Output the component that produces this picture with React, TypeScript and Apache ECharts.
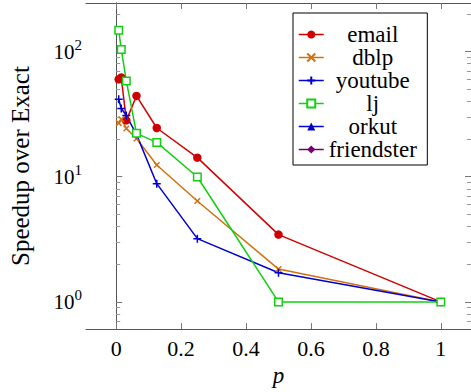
import React, { useEffect, useRef } from "react";
import * as echarts from "echarts";

const pValues = [1 / 128, 1 / 64, 1 / 32, 1 / 16, 1 / 8, 1 / 4, 1 / 2, 1];
const emailSpeedup = [60, 62, 28.2, 44.2, 24.5, 14.2, 3.45, 1];
const dblpSpeedup = [26.8, 28.8, 24.3, 20.2, 12.4, 6.4, 1.83, 1];
const youtubeSpeedup = [41.5, 35.1, 30.8, 21.8, 8.8, 3.2, 1.71, 1];
const ljSpeedup = [148, 104, 58.2, 22.2, 18.8, 9.95, 1.0, 1];
const orkutSpeedup: number[] = [];
const friendsterSpeedup: number[] = [];

const seriesNames = ["email", "dblp", "youtube", "lj", "orkut", "friendster"];
const xTicks = [0, 0.2, 0.4, 0.6, 0.8, 1];
const yMajorTicks = [1, 10, 100];
const yMinorTicks = [0.7, 0.8, 0.9, 2, 3, 4, 5, 6, 7, 8, 9, 20, 30, 40, 50, 60, 70, 80, 90, 200];

const FONT = "'Liberation Serif', 'Times New Roman', serif";
const X_MIN = -0.093;
const X_MAX = 1.093;
const Y_MIN = 0.6066;
const Y_MAX = 244.1;

const pair = (ys: number[]) => ys.map((y, i) => [pValues[i], y]);

export default function App() {
  const ref = useRef<HTMLDivElement>(null);
  useEffect(() => {
    if (!ref.current) return;
    const chart = echarts.init(ref.current, undefined, { renderer: "svg" });
    const axisLine = { show: true, lineStyle: { color: "#555", width: 1 } };
    const majorTickY = { show: true, inside: true, length: 6, customValues: yMajorTicks, lineStyle: { color: "#777", width: 1 } };
    const minorTickY = { show: true, inside: true, length: 4, customValues: yMinorTicks, lineStyle: { color: "#999", width: 1 } };
    const tickX = { show: true, inside: true, length: 6, customValues: xTicks, lineStyle: { color: "#777", width: 1 } };
    const yLog = { type: "log", logBase: 10, min: Y_MIN, max: Y_MAX, splitLine: { show: false }, minorTick: { show: false } };

    const lineCommon = { type: "line", xAxisIndex: 0, yAxisIndex: 0, showSymbol: true, lineStyle: { width: 1.5 }, emphasis: { disabled: true } };
    const option: any = {
      animation: false,
      backgroundColor: "#fff",
      grid: { left: 72, right: -1, top: 3, bottom: 53, containLabel: false },
      xAxis: [
        {
          type: "value", min: X_MIN, max: X_MAX, position: "bottom",
          axisLine, axisTick: tickX, splitLine: { show: false },
          axisLabel: { customValues: xTicks, fontFamily: FONT, fontSize: 22, color: "#000", margin: 8, formatter: (v: number) => String(Math.round(v * 10) / 10) },
          name: "p", nameLocation: "middle", nameGap: 21,
          nameTextStyle: { fontFamily: FONT, fontSize: 23, fontStyle: "italic", color: "#000" },
        },
        {
          type: "value", min: X_MIN, max: X_MAX, position: "top",
          axisLine, axisTick: tickX, splitLine: { show: false }, axisLabel: { show: false },
        },
      ],
      yAxis: [
        {
          ...yLog, position: "left", axisLine, axisTick: majorTickY,
          axisLabel: {
            customValues: yMajorTicks, margin: 4,
            formatter: (v: number) => `{b|10}{s|${Math.round(Math.log10(v))}}`,
            rich: {
              b: { fontFamily: FONT, fontSize: 21, color: "#000" },
              s: { fontFamily: FONT, fontSize: 15, color: "#000", padding: [0, 0, 13, 0] },
            },
          },
          name: "Speedup over Exact", nameLocation: "middle", nameGap: 53,
          nameTextStyle: { fontFamily: FONT, fontSize: 25, color: "#000" },
        },
        { ...yLog, position: "left", axisLine, axisTick: minorTickY, axisLabel: { show: false } },
        { ...yLog, position: "right", axisLine, axisTick: majorTickY, axisLabel: { show: false } },
        { ...yLog, position: "right", axisLine, axisTick: minorTickY, axisLabel: { show: false } },
      ],
      legend: {
        orient: "vertical", left: 293, top: 13,
        itemWidth: 25, itemHeight: 10, itemGap: 0,
        padding: [10, 10.5, 4, 5],
        backgroundColor: "#fff", borderColor: "#000", borderWidth: 1, borderRadius: 0,
        data: seriesNames,
        selectedMode: false,
        formatter: (n: string) => `{c|${n}}`,
        lineStyle: { width: 1.5 },
        textStyle: { rich: { c: { width: 88, align: "center", fontFamily: FONT, fontSize: 23, lineHeight: 23.5, color: "#000" } } },
      },
      series: [
        { ...lineCommon, name: "email", data: pair(emailSpeedup), symbol: "circle", symbolSize: 8.5,
          itemStyle: { color: "#d00000" }, lineStyle: { width: 1.5, color: "#d00000" } },
        { ...lineCommon, name: "dblp", data: pair(dblpSpeedup), symbol: "path://M0,0L10,10M10,0L0,10", symbolSize: 5.5,
          itemStyle: { color: "#d2700f", borderColor: "#d2700f", borderWidth: 1.5 }, lineStyle: { width: 1.5, color: "#d2700f" } },
        { ...lineCommon, name: "youtube", data: pair(youtubeSpeedup), symbol: "path://M5,0L5,10M0,5L10,5", symbolSize: 8,
          itemStyle: { color: "#0000d0", borderColor: "#0000d0", borderWidth: 1.5 }, lineStyle: { width: 1.5, color: "#0000d0" } },
        { ...lineCommon, name: "lj", data: pair(ljSpeedup), symbol: "rect", symbolSize: 7.5,
          itemStyle: { color: "#fff", borderColor: "#10d010", borderWidth: 1.5 }, lineStyle: { width: 1.5, color: "#10d010" } },
        { ...lineCommon, name: "orkut", data: pair(orkutSpeedup), symbol: "triangle", symbolSize: 8,
          itemStyle: { color: "#0000d0" }, lineStyle: { width: 1.5, color: "#0000d0" } },
        { ...lineCommon, name: "friendster", data: pair(friendsterSpeedup), symbol: "diamond", symbolSize: 8,
          itemStyle: { color: "#700070" }, lineStyle: { width: 1.5, color: "#700070" } },
      ],
    };
    chart.setOption(option);
    return () => chart.dispose();
  }, []);
  return <div ref={ref} style={{ position: "fixed", left: 0, top: 0, width: 471, height: 392 }} />;
}
